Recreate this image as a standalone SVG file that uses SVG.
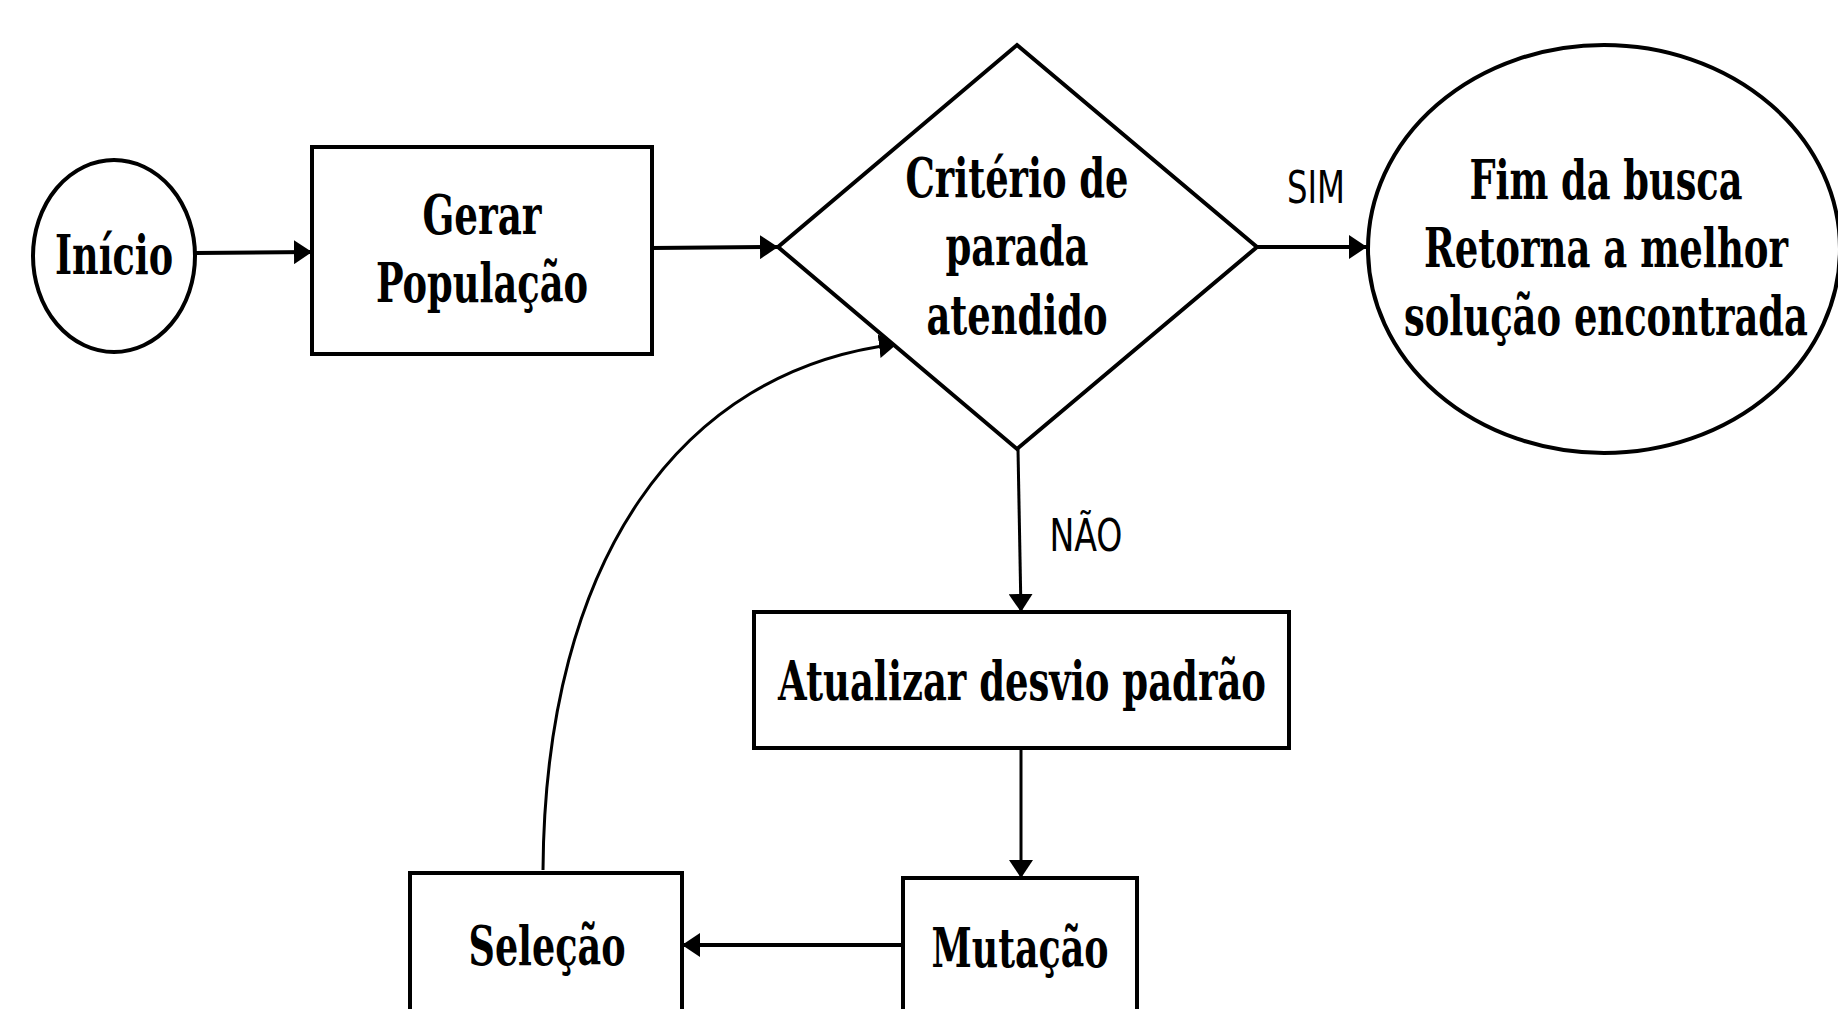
<svg xmlns="http://www.w3.org/2000/svg" width="1838" height="1009" viewBox="0 0 1838 1009">
<style>
.n{fill:#fff;stroke:#000;stroke-width:4}
.t{font-family:"DejaVu Serif Condensed","DejaVu Serif",serif;font-stretch:condensed;font-weight:bold;font-size:54px;fill:#000;text-anchor:middle}
.l{font-family:"DejaVu Sans Condensed","DejaVu Sans",sans-serif;font-stretch:condensed;font-size:44px;fill:#000;text-anchor:middle}
.c{fill:none;stroke:#000}
</style>
<defs>
<marker id="a" viewBox="0 0 10 10" refX="10" refY="5" markerWidth="6" markerHeight="6" markerUnits="userSpaceOnUse" orient="auto" overflow="visible">
<path d="M0,0 L10,5 L0,10 z" fill="#000"/>
</marker>
<marker id="b" viewBox="0 0 10 10" refX="10" refY="5" markerWidth="18" markerHeight="24" markerUnits="userSpaceOnUse" orient="auto" preserveAspectRatio="none">
<path d="M0,0 L10,5 L0,10 z" fill="#000"/>
</marker>
</defs>
<g id="connectors">
<path class="c" stroke-width="4" d="M195,253 L312,252" marker-end="url(#b)"/>
<path class="c" stroke-width="4" d="M652,248 L778,247" marker-end="url(#b)"/>
<path class="c" stroke-width="4" d="M1257,247 L1367,247" marker-end="url(#b)"/>
<path class="c" stroke-width="3" d="M1018,449 L1021,612" marker-end="url(#b)"/>
<path class="c" stroke-width="3" d="M1021,748 L1021,878" marker-end="url(#b)"/>
<path class="c" stroke-width="4" d="M903,945 L682,945" marker-end="url(#b)"/>
<path class="c" stroke-width="3" d="M543,870 C545,560 680,370 897,344" marker-end="url(#b)"/>
<text class="l" x="1316" y="203" textLength="58" lengthAdjust="spacingAndGlyphs">SIM</text>
<text class="l" x="1086" y="551" textLength="73" lengthAdjust="spacingAndGlyphs">NÃO</text>
</g>
<g id="inicio">
<ellipse class="n" cx="114" cy="256" rx="81" ry="96"/>
<text class="t" x="114" y="274" textLength="118" lengthAdjust="spacingAndGlyphs">Início</text>
</g>
<g id="gerar">
<rect class="n" x="312" y="147" width="340" height="207"/>
<text class="t" x="482" y="234" textLength="119" lengthAdjust="spacingAndGlyphs">Gerar</text>
<text class="t" x="482" y="302" textLength="212" lengthAdjust="spacingAndGlyphs">População</text>
</g>
<g id="criterio">
<polygon class="n" stroke-width="4" points="1017,45 1257,247 1017,449 778,247"/>
<text class="t" x="1017" y="197" textLength="223" lengthAdjust="spacingAndGlyphs">Critério de</text>
<text class="t" x="1017" y="265" textLength="143" lengthAdjust="spacingAndGlyphs">parada</text>
<text class="t" x="1017" y="334" textLength="181" lengthAdjust="spacingAndGlyphs">atendido</text>
</g>
<g id="fim">
<ellipse class="n" cx="1604" cy="249" rx="236" ry="204"/>
<text class="t" x="1606" y="199" textLength="273" lengthAdjust="spacingAndGlyphs">Fim da busca</text>
<text class="t" x="1606" y="267" textLength="364" lengthAdjust="spacingAndGlyphs">Retorna a melhor</text>
<text class="t" x="1606" y="335" textLength="404" lengthAdjust="spacingAndGlyphs">solução encontrada</text>
</g>
<g id="atualizar">
<rect class="n" x="754" y="612" width="535" height="136"/>
<text class="t" x="1022" y="700" textLength="488" lengthAdjust="spacingAndGlyphs">Atualizar desvio padrão</text>
</g>
<g id="mutacao">
<rect class="n" x="903" y="878" width="234" height="160"/>
<text class="t" x="1020" y="967" textLength="177" lengthAdjust="spacingAndGlyphs">Mutação</text>
</g>
<g id="selecao">
<rect class="n" x="410" y="873" width="272" height="165"/>
<text class="t" x="547" y="965" textLength="157" lengthAdjust="spacingAndGlyphs">Seleção</text>
</g>
</svg>
